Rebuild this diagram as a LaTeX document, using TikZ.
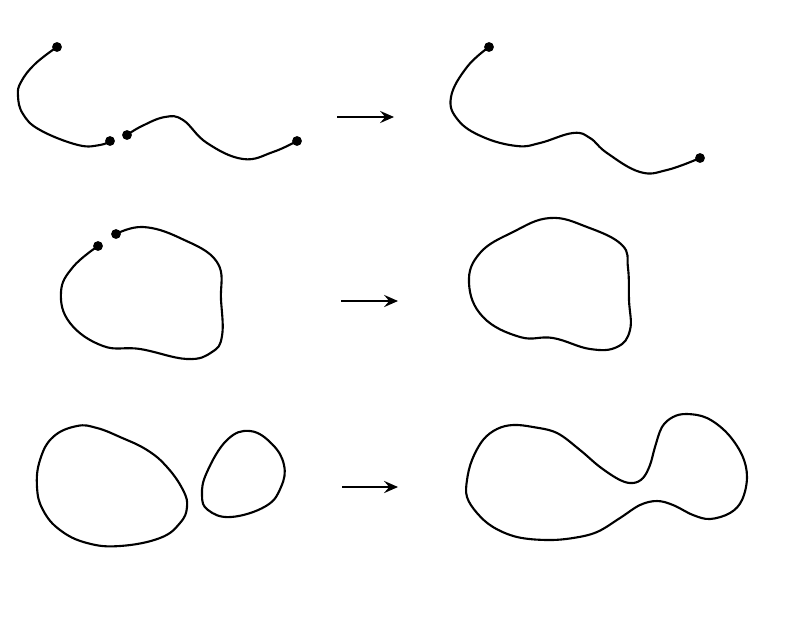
\documentclass[tikz,border=0pt]{standalone}
\usepackage{tikz}
\usetikzlibrary{arrows.meta}

\begin{document}
\begin{tikzpicture}[x=0.02cm, y=-0.02cm,
        curve/.style={line width=1.2pt, line join=round},
        arr/.style={line width=0.8pt, -{Stealth[length=8pt, width=7pt, inset=3pt]}}]
        \useasboundingbox (0, 0) rectangle (800, 643);
        \coordinate (p1) at (57, 47);
        \coordinate (p2) at (110, 141);
        \coordinate (p3) at (127, 135);
        \coordinate (p4) at (297, 141);
        \coordinate (q1) at (489, 47);
        \coordinate (q2) at (700, 158);
        \coordinate (r1) at (98, 246);
        \coordinate (r2) at (116, 234);
        \draw[curve] plot[smooth, tension=0.7] coordinates {(57, 47) (35, 64) (21, 82) (18, 96) (23, 114) (40, 130) (78, 145) (100, 145) (110, 141)};
        \draw[curve] plot[smooth, tension=0.7] coordinates {(127, 135) (142, 126) (165, 117) (183, 120) (207, 143) (243, 159) (273, 152) (297, 141)};
        \draw[curve] plot[smooth, tension=0.7] coordinates {(489, 47) (467, 67) (451, 97) (458, 120) (483, 137) (517, 146) (540, 143) (573, 133) (590, 138) (607, 153) (640, 172) (667, 170) (700, 158)};
        \draw[curve] plot[smooth, tension=0.7] coordinates {(98, 246) (73, 267) (61, 292) (70, 323) (103, 346) (140, 349) (187, 359) (212, 352) (222, 336) (221, 300) (217, 262) (180, 238) (143, 227) (116, 234)};
        \draw[curve] plot[smooth cycle, tension=0.7] coordinates {(550, 218) (587, 227) (622, 245) (628, 268) (629, 300) (630, 330) (617, 347) (590, 349) (553, 338) (520, 337) (483, 317) (469, 283) (480, 253) (513, 232)};
        \draw[curve] plot[smooth cycle, tension=0.7] coordinates {(77, 426) (97, 428) (120, 437) (147, 450) (167, 467) (183, 490) (187, 507) (180, 523) (160, 538) (120, 546) (87, 543) (60, 530) (43, 510) (37, 487) (40, 460) (53, 437)};
        \draw[curve] plot[smooth cycle, tension=0.7] coordinates {(250, 431) (272, 444) (284, 465) (281, 487) (266, 506) (231, 517) (208, 510) (202, 495) (207, 472) (227, 440)};
        \draw[curve] plot[smooth cycle, tension=0.6] coordinates {(513, 425) (533, 427) (557, 433) (580, 450) (600, 467) (620, 480) (633, 483) (643, 478) (650, 465) (655, 447) (662, 427) (673, 417) (687, 414) (707, 418) (727, 433) (742, 455) (747, 477) (742, 500) (730, 513) (710, 519) (693, 515) (673, 505) (657, 501) (640, 505) (620, 518) (597, 532) (573, 538) (547, 540) (517, 537) (493, 527) (477, 513) (467, 497) (467, 480) (472, 460) (483, 440) (497, 429)};
        \foreach \p in {p1, p2, p3, p4, q1, q2, r1, r2}
          \fill (\p) circle[radius=2.8pt];
        \coordinate (a1) at (337, 117); \coordinate (b1) at (394, 117);
        \coordinate (a2) at (341, 301); \coordinate (b2) at (398, 301);
        \coordinate (a3) at (342, 487); \coordinate (b3) at (398, 487);
        \draw[arr] (a1) -- (b1);
        \draw[arr] (a2) -- (b2);
        \draw[arr] (a3) -- (b3);
      \end{tikzpicture}
\end{document}
